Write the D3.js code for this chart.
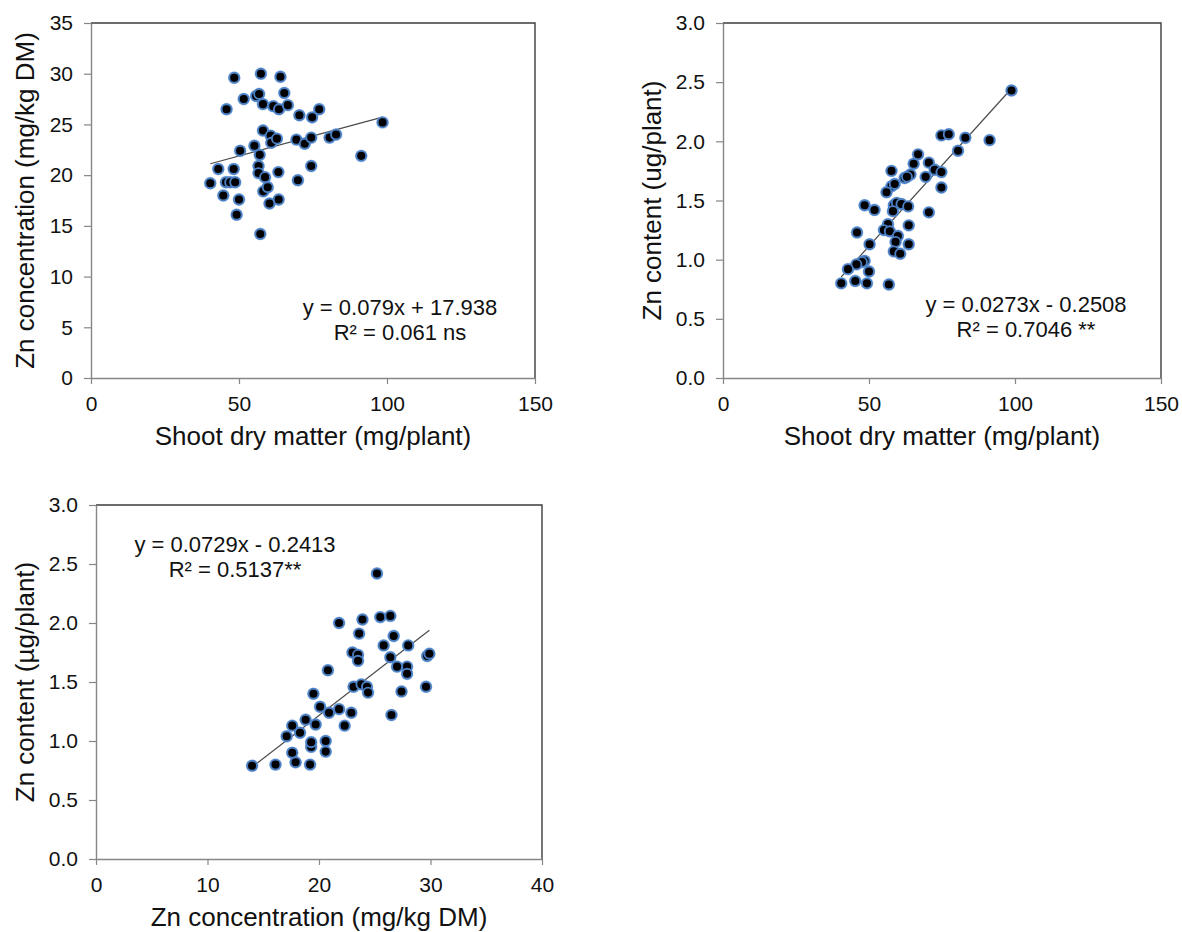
<!DOCTYPE html>
<html>
<head>
<meta charset="utf-8">
<script src="https://cdn.jsdelivr.net/npm/d3@7"></script>
<style>
  html, body { margin: 0; padding: 0; background: #fff; }
  svg { display: block; font-family: "Liberation Sans", Arial, sans-serif; }
</style>
</head>
<body>
<svg id="chart" width="1182" height="932"></svg>
<script>
// ---------- Panel 1: Shoot dry matter vs Zn concentration ----------
const p1DryMatter = [40.3,43.0,44.7,45.6,45.8,47.0,48.2,48.4,48.7,49.2,50.0,50.4,51.6,55.2,55.8,56.6,56.6,56.8,57.0,57.2,57.4,58.1,58.1,58.2,58.8,59.7,60.3,60.7,60.9,61.6,62.8,63.3,63.4,63.5,64.0,65.3,66.5,69.4,69.9,70.4,72.2,74.4,74.4,74.7,77.1,80.6,82.8,91.3,98.5];
const p1ZnConc    = [19.2,20.6,18.0,19.3,26.5,19.3,20.6,29.6,19.3,16.1,17.6,22.4,27.5,22.9,27.8,20.9,20.2,28.0,22.0,14.2,30.0,27.0,24.4,18.4,19.8,18.8,17.2,23.9,23.2,26.8,23.6,20.3,17.6,26.5,29.7,28.1,26.9,23.5,19.5,25.9,23.1,23.7,20.9,25.7,26.5,23.7,24.0,21.9,25.2];
const p1Trend = { slope: 0.079, intercept: 17.938 };
const p1EqLines = ["y = 0.079x + 17.938", "R² = 0.061 ns"];

// ---------- Panel 2: Shoot dry matter vs Zn content ----------
const p2DryMatter = [98.8,91.3,83.0,74.8,77.3,80.5,66.8,65.3,70.5,72.5,74.8,74.8,69.4,64.2,62.2,63.0,57.7,57.7,58.8,56.0,48.5,51.9,58.5,59.5,61.1,63.4,58.2,70.5,56.5,55.1,57.1,63.6,45.9,50.2,59.9,59.1,63.6,58.5,60.7,48.5,47.6,45.7,50.0,42.8,40.5,45.3,49.3,56.8];
const p2ZnContent = [2.43,2.01,2.03,2.05,2.06,1.92,1.89,1.81,1.82,1.76,1.74,1.61,1.70,1.72,1.69,1.70,1.75,1.62,1.64,1.57,1.46,1.42,1.46,1.48,1.47,1.45,1.41,1.40,1.30,1.25,1.24,1.29,1.23,1.13,1.20,1.15,1.13,1.07,1.05,0.99,0.98,0.96,0.90,0.92,0.80,0.82,0.80,0.79];
const p2Trend = { slope: 0.0273, intercept: -0.2508 };
const p2EqLines = ["y = 0.0273x - 0.2508", "R² = 0.7046 **"];

// ---------- Panel 3: Zn concentration vs Zn content ----------
const p3ZnConc    = [14.0,16.1,17.9,17.6,19.2,19.3,19.3,20.6,20.6,17.1,18.3,17.6,18.8,19.7,22.3,20.9,20.1,21.8,22.9,19.5,20.8,21.8,23.0,23.5,23.5,23.6,23.9,23.1,23.8,24.3,24.4,25.2,25.5,26.4,25.8,26.7,26.4,27.0,26.5,27.4,28.0,27.9,27.9,29.6,29.7,29.9];
const p3ZnContent = [0.79,0.80,0.82,0.90,0.80,0.95,0.99,0.91,1.00,1.04,1.07,1.13,1.18,1.14,1.13,1.24,1.29,1.27,1.24,1.40,1.60,2.00,1.75,1.73,1.68,1.91,2.03,1.46,1.48,1.46,1.41,2.42,2.05,2.06,1.81,1.89,1.71,1.63,1.22,1.42,1.81,1.63,1.57,1.46,1.72,1.74];
const p3Trend = { slope: 0.0729, intercept: -0.2413 };
const p3EqLines = ["y = 0.0729x - 0.2413", "R² = 0.5137**"];

// ---------- Axis ticks and titles ----------
const dmTicks = [0, 50, 100, 150];
const concTicks = [0, 10, 20, 30, 40];
const concYTicks = [0, 5, 10, 15, 20, 25, 30, 35];
const contentTicks = [0, 0.5, 1.0, 1.5, 2.0, 2.5, 3.0];
const xTitleDM = "Shoot dry matter (mg/plant)";
const xTitleConc = "Zn concentration (mg/kg DM)";
const yTitleConc = "Zn concentration (mg/kg DM)";
const yTitleContentUg = "Zn content (ug/plant)";
const yTitleContentMu = "Zn content (µg/plant)";

// ---------- Build panels ----------
const panels = [
  { xs: p1DryMatter, ys: p1ZnConc, trend: p1Trend, eq: p1EqLines,
    xDomain: [0, 150], yDomain: [0, 35], xTicks: dmTicks, yTicks: concYTicks,
    yFmt: d3.format("d"), xTitle: xTitleDM, yTitle: yTitleConc,
    box: { l: 91, r: 535, t: 23, b: 378 }, yTitleX: 25, eqPos: [400, 307] },
  { xs: p2DryMatter, ys: p2ZnContent, trend: p2Trend, eq: p2EqLines,
    xDomain: [0, 150], yDomain: [0, 3], xTicks: dmTicks, yTicks: contentTicks,
    yFmt: d3.format(".1f"), xTitle: xTitleDM, yTitle: yTitleContentUg,
    box: { l: 723, r: 1161, t: 23, b: 378 }, yTitleX: 652, eqPos: [1026, 304] },
  { xs: p3ZnConc, ys: p3ZnContent, trend: p3Trend, eq: p3EqLines,
    xDomain: [0, 40], yDomain: [0, 3], xTicks: concTicks, yTicks: contentTicks,
    yFmt: d3.format(".1f"), xTitle: xTitleConc, yTitle: yTitleContentMu,
    box: { l: 96, r: 542, t: 505, b: 859 }, yTitleX: 25, eqPos: [235, 544] }
];

const svg = d3.select("#chart");
const axisGray = "#868686";
const tickFont = 21;
const titleFont = 26;
const eqFont = 22;

panels.forEach(p => {
  const { l, r, t, b } = p.box;
  const x = d3.scaleLinear().domain(p.xDomain).range([l, r]);
  const y = d3.scaleLinear().domain(p.yDomain).range([b, t]);
  const g = svg.append("g");

  // plot area border (top/right darker)
  g.append("path")
    .attr("d", `M${l},${t}H${r}V${b}`)
    .attr("fill", "none").attr("stroke", "#3c3c3c").attr("stroke-width", 1.4);

  // y axis
  const yAxis = g.append("g").attr("transform", `translate(${l},0)`)
    .call(d3.axisLeft(y).tickValues(p.yTicks).tickFormat(p.yFmt).tickSizeInner(7).tickSizeOuter(0).tickPadding(11));
  yAxis.select(".domain").attr("stroke", axisGray).attr("stroke-width", 1.4);
  yAxis.selectAll(".tick line").attr("stroke", axisGray).attr("stroke-width", 1.2);
  yAxis.selectAll(".tick text").attr("font-size", tickFont).attr("fill", "#111")
    .attr("font-family", "Liberation Sans, Arial, sans-serif");

  // x axis
  const xAxis = g.append("g").attr("transform", `translate(0,${b})`)
    .call(d3.axisBottom(x).tickValues(p.xTicks).tickFormat(d3.format("d")).tickSizeInner(6).tickSizeOuter(0).tickPadding(12));
  xAxis.select(".domain").attr("stroke", axisGray).attr("stroke-width", 1.4);
  xAxis.selectAll(".tick line").attr("stroke", axisGray).attr("stroke-width", 1.2);
  xAxis.selectAll(".tick text").attr("font-size", tickFont).attr("fill", "#111")
    .attr("font-family", "Liberation Sans, Arial, sans-serif");

  // trend line
  const xMin = d3.min(p.xs), xMax = d3.max(p.xs);
  const f = v => p.trend.slope * v + p.trend.intercept;
  g.append("line")
    .attr("x1", x(xMin)).attr("y1", y(f(xMin)))
    .attr("x2", x(xMax)).attr("y2", y(f(xMax)))
    .attr("stroke", "#4a4a4a").attr("stroke-width", 1.2);

  // points
  const pts = p.xs.map((v, i) => [v, p.ys[i]]);
  g.append("g").selectAll("circle").data(pts).join("circle")
    .attr("cx", d => x(d[0])).attr("cy", d => y(d[1]))
    .attr("r", 6.4).attr("fill", "#7aa7de").attr("opacity", 0.55);
  g.append("g").selectAll("circle").data(pts).join("circle")
    .attr("cx", d => x(d[0])).attr("cy", d => y(d[1]))
    .attr("r", 5).attr("fill", "#000").attr("stroke", "#4a7fc4").attr("stroke-width", 1.9);

  // equation
  p.eq.forEach((line, i) => {
    g.append("text")
      .attr("x", p.eqPos[0]).attr("y", p.eqPos[1] + i * 25.5)
      .attr("text-anchor", "middle").attr("dominant-baseline", "central")
      .attr("font-size", eqFont).attr("fill", "#111")
      .text(line);
  });

  // axis titles
  g.append("text")
    .attr("x", (l + r) / 2).attr("y", b + 58)
    .attr("text-anchor", "middle").attr("dominant-baseline", "central")
    .attr("font-size", titleFont).attr("fill", "#111")
    .text(p.xTitle);
  g.append("text")
    .attr("transform", `translate(${p.yTitleX},${(t + b) / 2}) rotate(-90)`)
    .attr("text-anchor", "middle").attr("dominant-baseline", "central")
    .attr("font-size", titleFont).attr("fill", "#111")
    .text(p.yTitle);
});
</script>
</body>
</html>
